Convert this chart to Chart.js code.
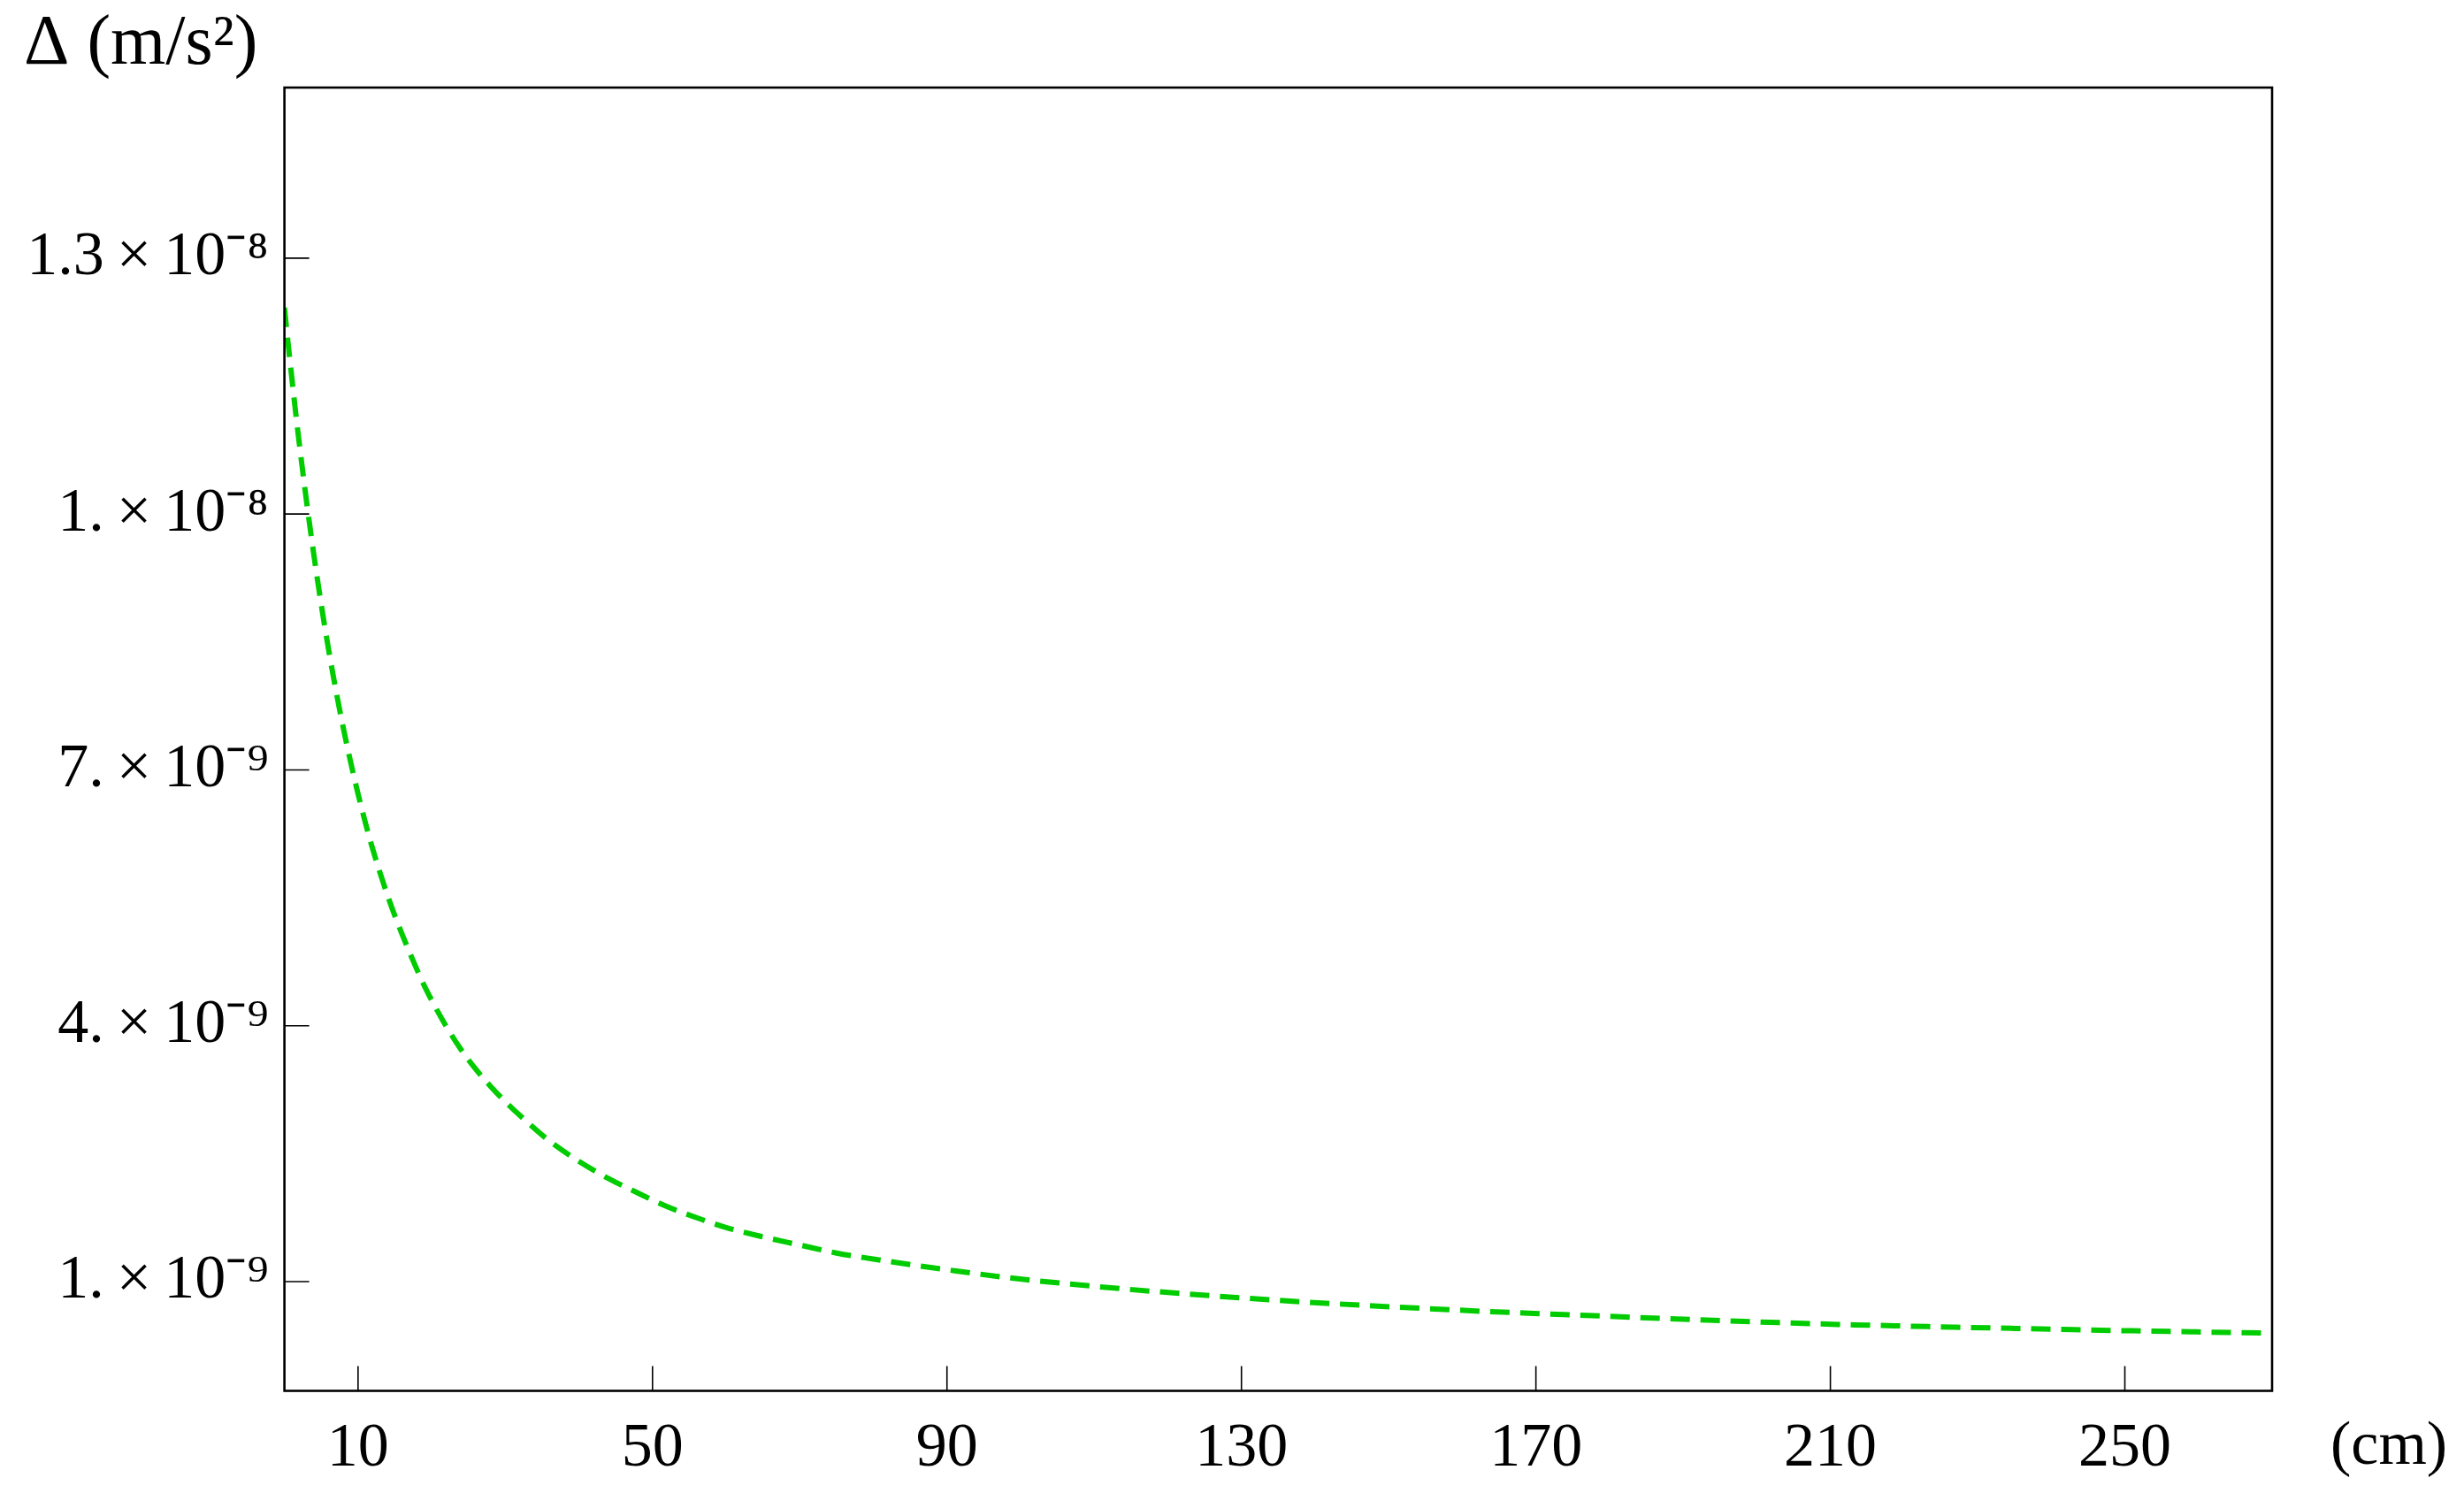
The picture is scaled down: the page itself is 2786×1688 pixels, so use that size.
<!DOCTYPE html>
<html lang="en">
<head>
    <meta charset="UTF-8">
    <title>Δ (m/s²) vs distance (cm)</title>
    <script src="https://cdn.jsdelivr.net/npm/chart.js@4.4.1/dist/chart.umd.min.js"></script>
    <style>
        html, body {
            margin: 0;
            padding: 0;
            background: #fff;
        }

        #chart-container {
            width: 2786px;
            height: 1688px;
        }
    </style>
</head>

<body>
    <div id="chart-container">
        <canvas id="deltaChart" width="2786" height="1688"></canvas>
    </div>
    <script>
        // distance (cm) and Δ (m/s²)
        const distanceCm = [
            0, 0.5, 1, 1.5, 2, 2.5, 3, 4, 5, 6, 7, 8, 9, 10, 11, 12, 13, 14, 15, 16,
            17, 18, 19, 20, 22, 24, 26, 28, 30, 33, 36, 40, 44, 48, 52, 56, 60, 65, 70,
            75, 80, 85, 90, 98, 106, 114, 122, 130, 138, 146, 155, 163, 171, 179, 187,
            195, 203, 211, 219, 227, 235, 243, 251, 259, 266, 270
        ];
        const deltaValues = [
            12.42e-9, 12.0e-9, 11.6e-9, 11.21e-9, 10.84e-9, 10.49e-9, 10.15e-9, 9.52e-9, 8.94e-9, 8.41e-9,
            7.93e-9, 7.49e-9, 7.09e-9, 6.72e-9, 6.38e-9, 6.07e-9, 5.79e-9, 5.53e-9, 5.29e-9, 5.07e-9,
            4.86e-9, 4.66e-9, 4.47e-9, 4.30e-9, 3.99e-9, 3.72e-9, 3.49e-9, 3.29e-9, 3.11e-9, 2.87e-9,
            2.65e-9, 2.41e-9, 2.21e-9, 2.04e-9, 1.88e-9, 1.75e-9, 1.635e-9, 1.525e-9, 1.43e-9,
            1.335e-9, 1.265e-9, 1.20e-9, 1.14e-9, 1.05e-9, 0.978e-9, 0.915e-9, 0.86e-9, 0.81e-9,
            0.765e-9, 0.725e-9, 0.685e-9, 0.652e-9, 0.624e-9, 0.597e-9, 0.57e-9, 0.545e-9,
            0.52e-9, 0.499e-9, 0.482e-9, 0.466e-9, 0.452e-9, 0.437e-9, 0.424e-9, 0.412e-9,
            0.402e-9, 0.397e-9
        ];

        const xTicks = [10, 50, 90, 130, 170, 210, 250];
        const yTicks = [1.3e-8, 1e-8, 7e-9, 4e-9, 1e-9];
        const yTickLabels = [
            '1.3\u2009×\u200910⁻⁸', '1.\u2009×\u200910⁻⁸', '7.\u2009×\u200910⁻⁹',
            '4.\u2009×\u200910⁻⁹', '1.\u2009×\u200910⁻⁹'
        ];
        const yAxisLabel = 'Δ (m/s²)';
        const xAxisLabel = '(cm)';

        const serif = "'Liberation Serif', 'Times New Roman', serif";
        Chart.defaults.font.family = serif;
        Chart.defaults.color = '#000';

        // plot frame, inward tick marks and the "(cm)" label
        const framePlugin = {
            id: 'frame',
            afterDatasetsDraw(chart) {
                const { ctx, chartArea: a, scales } = chart;
                ctx.save();
                ctx.strokeStyle = '#000';
                ctx.lineWidth = 1.6;
                ctx.beginPath();
                scales.x.ticks.forEach(t => {
                    const px = scales.x.getPixelForValue(t.value);
                    ctx.moveTo(px, a.bottom);
                    ctx.lineTo(px, a.bottom - 28);
                });
                scales.y.ticks.forEach(t => {
                    const py = scales.y.getPixelForValue(t.value);
                    ctx.moveTo(a.left, py);
                    ctx.lineTo(a.left + 28, py);
                });
                ctx.stroke();

                ctx.lineWidth = 2.6;
                ctx.strokeRect(a.left, a.top, a.right - a.left, a.bottom - a.top);

                ctx.fillStyle = '#000';
                ctx.font = '70px ' + serif;
                ctx.textAlign = 'left';
                ctx.textBaseline = 'middle';
                ctx.fillText(xAxisLabel, a.right + 66, a.bottom + 64);
                ctx.restore();
            }
        };

        const ctx = document.getElementById('deltaChart').getContext('2d');
        new Chart(ctx, {
            type: 'line',
            data: {
                datasets: [{
                    label: 'Δ',
                    data: distanceCm.map((d, i) => ({ x: d, y: deltaValues[i] })),
                    borderColor: '#00cc00',
                    borderWidth: 6,
                    borderDash: [22, 12],
                    pointRadius: 0,
                    cubicInterpolationMode: 'monotone',
                    fill: false
                }]
            },
            options: {
                responsive: false,
                devicePixelRatio: 1,
                animation: false,
                layout: {
                    padding: { top: 2, left: 27, right: 217, bottom: 0 }
                },
                plugins: {
                    legend: { display: false },
                    tooltip: { enabled: false },
                    title: {
                        display: true,
                        text: yAxisLabel,
                        align: 'start',
                        color: '#000',
                        font: { family: serif, size: 80, weight: 'normal', lineHeight: 1.2 },
                        padding: { top: 1, bottom: 0 }
                    }
                },
                scales: {
                    x: {
                        type: 'linear',
                        min: 0,
                        max: 270,
                        grid: { display: false, drawTicks: false },
                        border: { display: false },
                        afterBuildTicks: scale => {
                            scale.ticks = xTicks.map(v => ({ value: v }));
                        },
                        afterFit: scale => {
                            scale.height = 115.5;
                        },
                        ticks: {
                            padding: 24,
                            maxRotation: 0,
                            autoSkip: false,
                            font: { size: 70 },
                            callback: value => String(value)
                        }
                    },
                    y: {
                        type: 'linear',
                        min: -0.28e-9,
                        max: 15.0e-9,
                        grid: { display: false, drawTicks: false },
                        border: { display: false },
                        afterBuildTicks: scale => {
                            scale.ticks = yTicks.map(v => ({ value: v }));
                        },
                        afterFit: scale => {
                            scale.width = 294.6;
                        },
                        ticks: {
                            padding: 18,
                            autoSkip: false,
                            font: { size: 70 },
                            callback: value => {
                                const i = yTicks.findIndex(t => Math.abs(t - value) < 1e-13);
                                return i >= 0 ? yTickLabels[i] : '';
                            }
                        }
                    }
                }
            },
            plugins: [framePlugin]
        });
    </script>
</body>
</html>
